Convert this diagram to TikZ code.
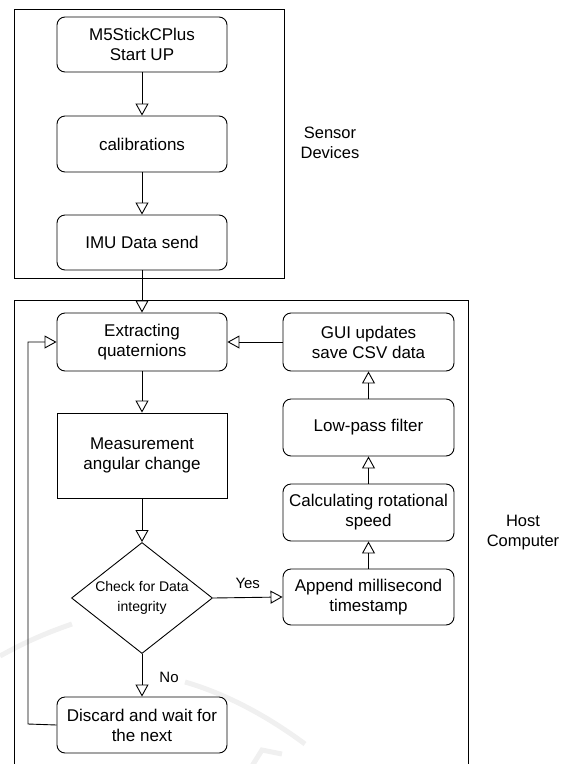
\documentclass[tikz,border=0pt]{standalone}
\usepackage{fontspec}
\setmainfont{Liberation Sans}
\usetikzlibrary{arrows.meta,shapes.geometric}
\begin{document}
\begin{tikzpicture}[x=1pt,y=-1pt,
  line width=0.9pt,
  every node/.style={font=\fontsize{17}{20}\selectfont, align=center, inner sep=0pt},
  stepbox/.style={draw, rounded corners=8pt, minimum width=170pt},
  plainbox/.style={draw, minimum width=170pt},
  decision/.style={draw, diamond, aspect=1.27, minimum width=141pt, minimum height=111pt,
    font=\fontsize{14}{20}\selectfont},
  grouplabel/.style={font=\fontsize{16.5}{20}\selectfont},
  branchlabel/.style={font=\fontsize{15}{18}\selectfont},
  group/.style={draw, line width=1pt},
  flow/.style={-{Triangle[open,length=12pt,width=13pt]}, line width=0.9pt},
  watermark/.style={draw=black!6, line width=5pt},
]
\useasboundingbox (0,0) rectangle (570,764);
\begin{scope}
\clip (0,0) rectangle (570,764);
% faint background strokes
\draw[watermark] (0,656) .. controls (20,645) and (40,635) .. (72,624);
\draw[watermark] (185,682) .. controls (220,692) and (262,712) .. (305,744);
\draw[watermark] (252,766) -- (262,750) -- (282,754);
% group frames
\draw[group] (14,9) rectangle (284,278);
\draw[group] (14,300) rectangle (468,790);
\end{scope}

% sensor device steps
\node[stepbox, minimum height=55pt] (start) at (142,44.5) {M5StickCPlus\\Start UP};
\node[stepbox, minimum height=56pt] (calib) at (142,144) {calibrations};
\node[stepbox, minimum height=55pt] (imu) at (142,242.5) {IMU Data send};

% host computer steps
\node[stepbox, minimum height=58pt] (extract) at (142,342) {Extracting\\quaternions};
\node[plainbox, minimum height=85pt] (measure) at (142,455.5) {Measurement\\angular change};
\node[decision] (check) at (142,598) {Check for Data\\integrity};
\node[stepbox, minimum height=56pt] (discard) at (142,725) {Discard and wait for\\the next};

\node[stepbox, minimum width=171pt, minimum height=58pt] (gui) at (368.5,342) {GUI updates\\save CSV data};
\node[stepbox, minimum width=171pt, minimum height=57pt] (lowpass) at (368.5,427.5) {Low-pass filter};
\node[stepbox, minimum width=171pt, minimum height=57pt] (calc) at (368.5,512.5) {Calculating rotational\\speed};
\node[stepbox, minimum width=171pt, minimum height=56pt] (append) at (368.5,597) {Append millisecond\\timestamp};

% group labels
\node[grouplabel] (sensorlbl) at (330,143) {Sensor\\Devices};
\node[grouplabel] (hostlbl) at (523,533) {Host\\Computer};

% connectors
\draw[flow] (start) -- (calib);
\draw[flow] (calib) -- (imu);
\draw[flow] (imu) -- (extract);
\draw[flow] (extract) -- (measure);
\draw[flow] (measure) -- (check);
\draw[flow] (check.east) -- node[branchlabel, above=8pt] (yeslbl) {Yes} (append.west);
\draw[flow] (check.south) -- node[branchlabel, right=17pt, yshift=-2pt] (nolbl) {No} (discard.north);
\coordinate (loop) at (28,724);
\draw[flow] (discard.west) -- (loop) |- (extract.west);
\draw[flow] (append) -- (calc);
\draw[flow] (calc) -- (lowpass);
\draw[flow] (lowpass) -- (gui);
\draw[flow] (gui) -- (extract);
\end{tikzpicture}
\end{document}
